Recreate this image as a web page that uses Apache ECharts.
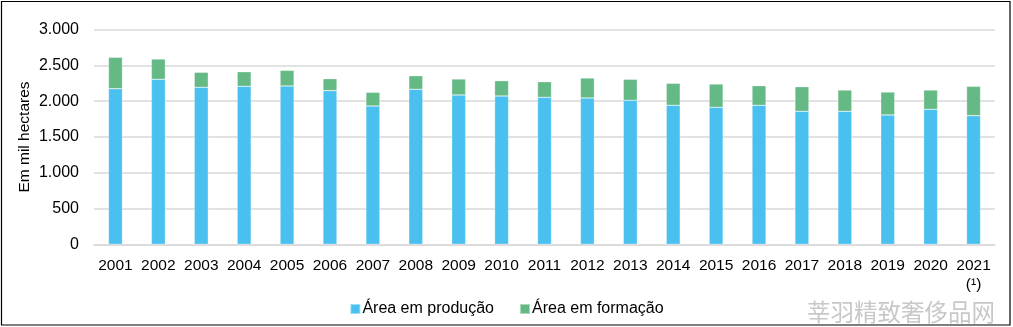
<!DOCTYPE html>
<html>
<head>
<meta charset="utf-8">
<script src="https://cdn.jsdelivr.net/npm/echarts@6/dist/echarts.min.js"></script>
<style>
  html, body { margin: 0; padding: 0; background: #fff; }
  #chart { width: 1013px; height: 327px; }
</style>
</head>
<body>
<div id="chart"></div>
<script>
// Years shown on the category axis (2021 is provisional, marked with a footnote)
const years = ['2001','2002','2003','2004','2005','2006','2007','2008','2009','2010','2011',
               '2012','2013','2014','2015','2016','2017','2018','2019','2020','2021\n(\u00B9)'];

// Area in production, thousand hectares
const areaProducao = [2175, 2307, 2195, 2209, 2213, 2148, 1933, 2167, 2087, 2073, 2055,
                      2045, 2013, 1943, 1915, 1943, 1859, 1859, 1808, 1887, 1798];

// Area in formation (new plantings), thousand hectares
const areaFormacao = [439, 283, 210, 204, 219, 167, 192, 190, 224, 214, 218,
                      280, 294, 308, 326, 274, 344, 298, 321, 270, 411];

const seriesNames = ['Área em produção', 'Área em formação'];
const yTicks = { min: 0, max: 3000, interval: 500 };

const FONT = 'Liberation Sans, Arial, sans-serif';

const chart = echarts.init(document.getElementById('chart'), null, { renderer: 'canvas' });

function thousands(v) {
  return String(v).replace(/\B(?=(\d{3})+(?!\d))/g, '.');
}

chart.setOption({
  animation: false,
  backgroundColor: '#ffffff',
  textStyle: { fontFamily: FONT },
  grid: { left: 94, right: 18, top: 29.7, bottom: 82.7, containLabel: false },
  legend: {
    data: seriesNames,
    top: 296,
    left: 'center',
    icon: 'rect',
    itemWidth: 10,
    itemHeight: 10,
    itemGap: 25,
    textStyle: { fontFamily: FONT, fontSize: 16, color: '#000', padding: [0, 0, 0, -3] }
  },
  xAxis: {
    type: 'category',
    data: years,
    axisTick: { show: false },
    axisLine: { lineStyle: { color: '#d9d9d9', width: 1.5 } },
    axisLabel: {
      color: '#000',
      fontFamily: FONT,
      fontSize: 15.5,
      lineHeight: 19,
      margin: 12,
      interval: 0
    }
  },
  yAxis: {
    type: 'value',
    min: yTicks.min,
    max: yTicks.max,
    interval: yTicks.interval,
    name: 'Em mil hectares',
    nameLocation: 'middle',
    nameRotate: 90,
    nameGap: 61,
    nameMoveOverlap: false,
    nameTextStyle: { color: '#000', fontFamily: FONT, fontSize: 15.5 },
    axisLine: { show: false },
    axisTick: { show: false },
    axisLabel: {
      color: '#000',
      fontFamily: FONT,
      fontSize: 16,
      margin: 15,
      formatter: thousands
    },
    splitLine: { lineStyle: { color: '#d9d9d9', width: 1.5 } }
  },
  series: [
    {
      name: seriesNames[0],
      type: 'bar',
      stack: 'area',
      barWidth: 14,
      data: areaProducao,
      itemStyle: { color: '#49c0ef', borderColor: 'rgba(255,255,255,0.45)', borderWidth: 0.6 }
    },
    {
      name: seriesNames[1],
      type: 'bar',
      stack: 'area',
      barWidth: 14,
      data: areaFormacao,
      itemStyle: { color: '#65b985', borderColor: 'rgba(255,255,255,0.45)', borderWidth: 0.6 }
    }
  ],
  graphic: [
    {
      type: 'rect',
      silent: true,
      shape: { x: 1.5, y: 1.5, width: 1008.5, height: 323.5 },
      style: { fill: 'none', stroke: '#000', lineWidth: 1.2 },
      z: 100
    },
    {
      type: 'text',
      silent: true,
      x: 807,
      y: 300,
      style: {
        text: '莘羽精致奢侈品网',
        fontFamily: 'Noto Sans CJK SC',
        fontSize: 23.5,
        fill: '#c8c8c8',
        textVerticalAlign: 'top'
      },
      z: 101
    }
  ]
});
</script>
</body>
</html>
